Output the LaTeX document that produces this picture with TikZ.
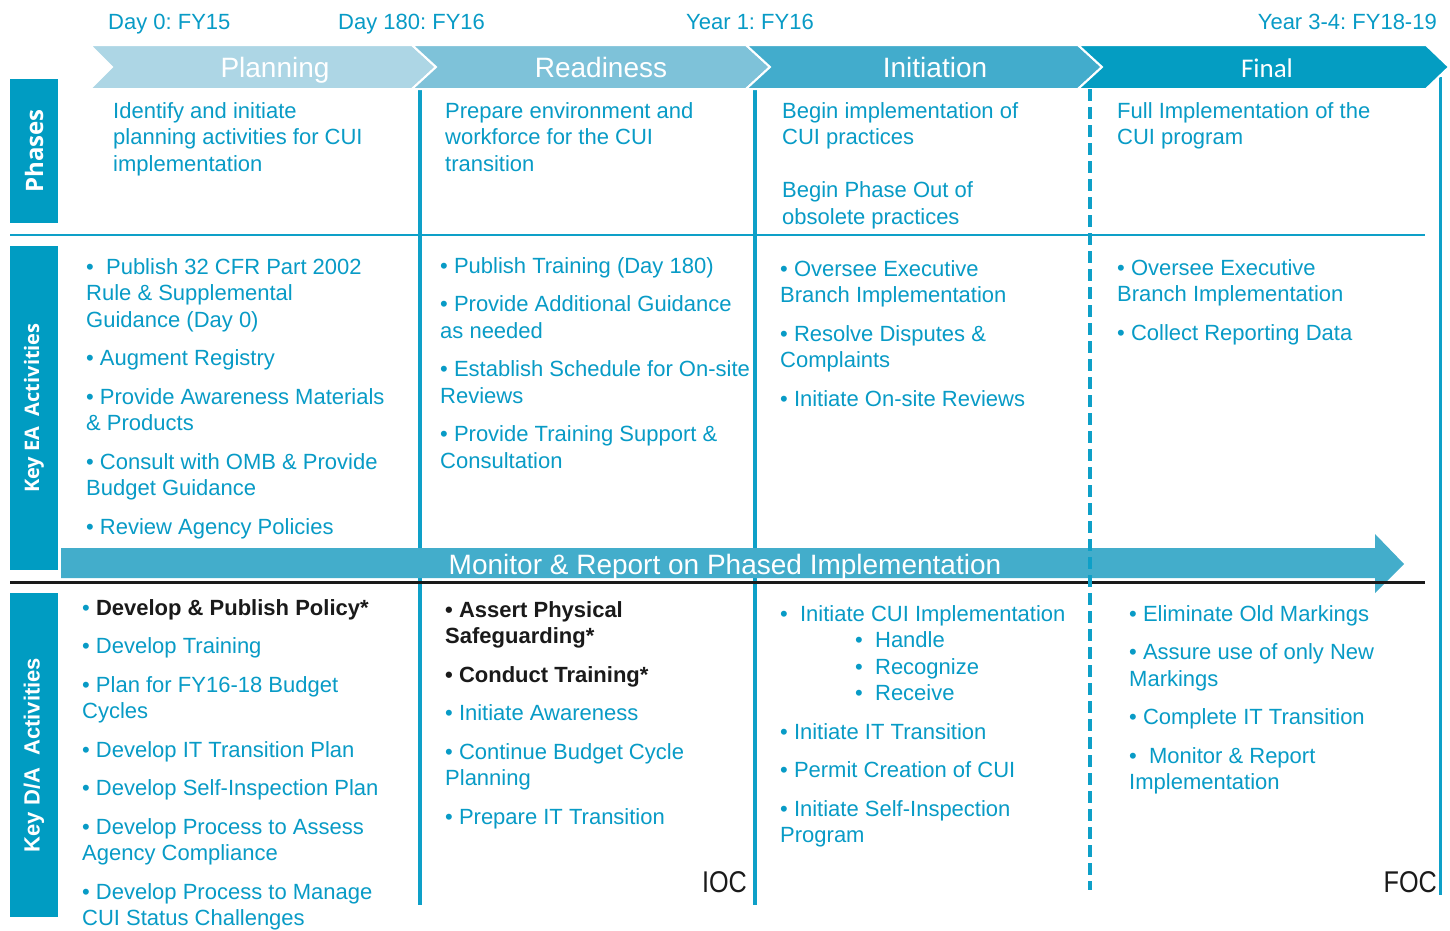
\documentclass[tikz,border=0pt]{standalone}
\usepackage{fontspec}
\setmainfont{Liberation Sans}
\newfontfamily\carlitofont{Carlito}
\newfontfamily\opensansfont{Open Sans}
\frenchspacing

\definecolor{cuiblue}{RGB}{8,155,198}
\definecolor{sidebar}{RGB}{0,156,194}
\definecolor{chevA}{RGB}{173,214,229}
\definecolor{chevB}{RGB}{126,194,217}
\definecolor{chevC}{RGB}{66,172,204}
\definecolor{chevD}{RGB}{4,157,194}
\definecolor{bandcol}{RGB}{67,173,203}
\definecolor{rulecol}{RGB}{14,160,200}
\definecolor{inkblack}{RGB}{26,26,26}

\newcommand{\hl}[1]{{\bfseries\color{inkblack}#1}}

\begin{document}
\begin{tikzpicture}[x=1pt,y=-1pt,
  % text blocks are placed by the baseline of their first line
  txt/.style={anchor=north west, yshift=18.55pt, inner sep=0pt, align=left, text=cuiblue,
              font=\fontsize{22}{26.5}\selectfont},
  datetxt/.style={anchor=base west, inner sep=0pt, text=cuiblue,
              font=\fontsize{22}{26}\selectfont},
  chevtxt/.style={anchor=base, inner sep=0pt, text=white,
              font=\fontsize{28}{28}\selectfont},
  sidetxt/.style={rotate=90, inner sep=0pt, text=white},
  chevron/.style={draw=white, line width=2pt, line join=miter},
  gridline/.style={draw=rulecol, line width=3.5pt},
  milestone/.style={anchor=base east, inner sep=0pt, text=inkblack,
              font=\fontsize{30}{30}\selectfont},
]
\useasboundingbox (0,0) rectangle (1450,930);
\fill[white] (0,0) rectangle (1450,930);

% ---- timeline dates
\node[datetxt] (d0) at (108,29) {Day 0: FY15};
\node[datetxt] (d180) at (338,29) {Day 180: FY16};
\node[datetxt] (y1) at (686,29) {Year 1: FY16};
\node[datetxt, anchor=base east] (y34) at (1437,29) {Year 3-4: FY18-19};

% ---- grid rules
\draw[rulecol, line width=1.8pt] (10,235) -- (1425,235);
\draw[gridline] (420,89) -- (420,905);
\draw[gridline] (755,89) -- (755,905);
\draw[rulecol, line width=3pt] (1440,77) -- (1440,895);

% ---- phase chevrons
\fill[chevA, chevron] (90,45) -- (412,45) -- (436,67) -- (412,89) -- (90,89) -- (112,67) -- cycle;
\fill[chevB, chevron] (412,45) -- (746,45) -- (770,67) -- (746,89) -- (412,89) -- (436,67) -- cycle;
\fill[chevC, chevron] (746,45) -- (1078,45) -- (1102,67) -- (1078,89) -- (746,89) -- (770,67) -- cycle;
\fill[chevD, chevron] (1078,45) -- (1426,45) -- (1449,67) -- (1426,89) -- (1078,89) -- (1102,67) -- cycle;
\node[chevtxt] (cp) at (275,77) {Planning};
\node[chevtxt] (cr) at (601,77) {Readiness};
\node[chevtxt] (ci) at (935,77) {Initiation};
\node[chevtxt, font=\carlitofont\fontsize{27}{27}\selectfont] (cf) at (1267,77) {Final};

% ---- row labels
\fill[sidebar] (10,79) rectangle (58,223);
\fill[sidebar] (10,246) rectangle (58,570);
\fill[sidebar] (10,593) rectangle (58,917);
\node[sidetxt, font=\opensansfont\bfseries\fontsize{24}{24}\selectfont] (lp) at (34,151) {Phases};
\node[sidetxt, font=\opensansfont\bfseries\fontsize{20}{20}\selectfont] (lea) at (34,408) {Key EA\ \ Activities};
\node[sidetxt, font=\bfseries\fontsize{22}{22}\selectfont] (lda) at (34,755) {Key D/A\ \ Activities};

% ---- monitoring band
\fill[bandcol] (61,548) -- (1375,548) -- (1375,534) -- (1404,564) -- (1375,593) -- (1375,578) -- (61,578) -- cycle;
\node[chevtxt] (mon) at (725,574) {Monitor \& Report on Phased Implementation};
\draw[inkblack, line width=3pt] (10,582) -- (1425,582);
\draw[rulecol, line width=3.5pt, dash pattern=on 12pt off 6pt] (1090,89) -- (1090,890);

% ---- phase descriptions
\node[txt] (ph1) at (113,118) {\strut Identify and initiate\\planning activities for CUI\\implementation};
\node[txt] (ph2) at (445,118) {\strut Prepare environment and\\workforce for the CUI\\transition};
\node[txt] (ph3) at (782,118) {\strut Begin implementation of\\CUI practices\\[26.5pt]Begin Phase Out of\\obsolete practices};
\node[txt] (ph4) at (1117,118) {\strut Full Implementation of the\\CUI program};

% ---- key EA activities
\node[txt] (ea1) at (86,274) {\strut•\ \ Publish 32 CFR Part 2002\\Rule \& Supplemental\\Guidance (Day 0)\\[12pt]%
• Augment Registry\\[12pt]%
• Provide Awareness Materials\\\& Products\\[12pt]%
• Consult with OMB \& Provide\\Budget Guidance\\[12pt]%
• Review Agency Policies};
\node[txt] (ea2) at (440,273) {\strut• Publish Training (Day 180)\\[12pt]%
• Provide Additional Guidance\\as needed\\[12pt]%
• Establish Schedule for On-site\\Reviews\\[12pt]%
• Provide Training Support \&\\Consultation};
\node[txt] (ea3) at (780,276) {\strut• Oversee Executive\\Branch Implementation\\[12pt]%
• Resolve Disputes \&\\Complaints\\[12pt]%
• Initiate On-site Reviews};
\node[txt] (ea4) at (1117,275) {\strut• Oversee Executive\\Branch Implementation\\[12pt]%
• Collect Reporting Data};

% ---- key D/A activities
\node[txt] (da1) at (82,615) {\strut• \hl{Develop \& Publish Policy*}\\[12pt]%
• Develop Training\\[12pt]%
• Plan for FY16-18 Budget\\Cycles\\[12pt]%
• Develop IT Transition Plan\\[12pt]%
• Develop Self-Inspection Plan\\[12pt]%
• Develop Process to Assess\\Agency Compliance\\[12pt]%
• Develop Process to Manage\\CUI Status Challenges};
\node[txt] (da2) at (445,617) {\strut\hl{• Assert Physical}\\\hl{Safeguarding*}\\[12pt]%
\hl{• Conduct Training*}\\[12pt]%
• Initiate Awareness\\[12pt]%
• Continue Budget Cycle\\Planning\\[12pt]%
• Prepare IT Transition};
\node[txt] (da3) at (780,621) {\strut•\ \ Initiate CUI Implementation\\%
\hspace*{75pt}•\ \ Handle\\%
\hspace*{75pt}•\ \ Recognize\\%
\hspace*{75pt}•\ \ Receive\\[12pt]%
• Initiate IT Transition\\[12pt]%
• Permit Creation of CUI\\[12pt]%
• Initiate Self-Inspection\\Program};
\node[txt] (da4) at (1129,621) {\strut• Eliminate Old Markings\\[12pt]%
• Assure use of only New\\Markings\\[12pt]%
• Complete IT Transition\\[12pt]%
•\ \ Monitor \& Report\\Implementation};

% ---- capability milestones
\node[milestone] (ioc) at (747,892) {\scalebox{0.84}[1]{IOC}};
\node[milestone] (foc) at (1437,892) {\scalebox{0.84}[1]{FOC}};
\end{tikzpicture}
\end{document}
